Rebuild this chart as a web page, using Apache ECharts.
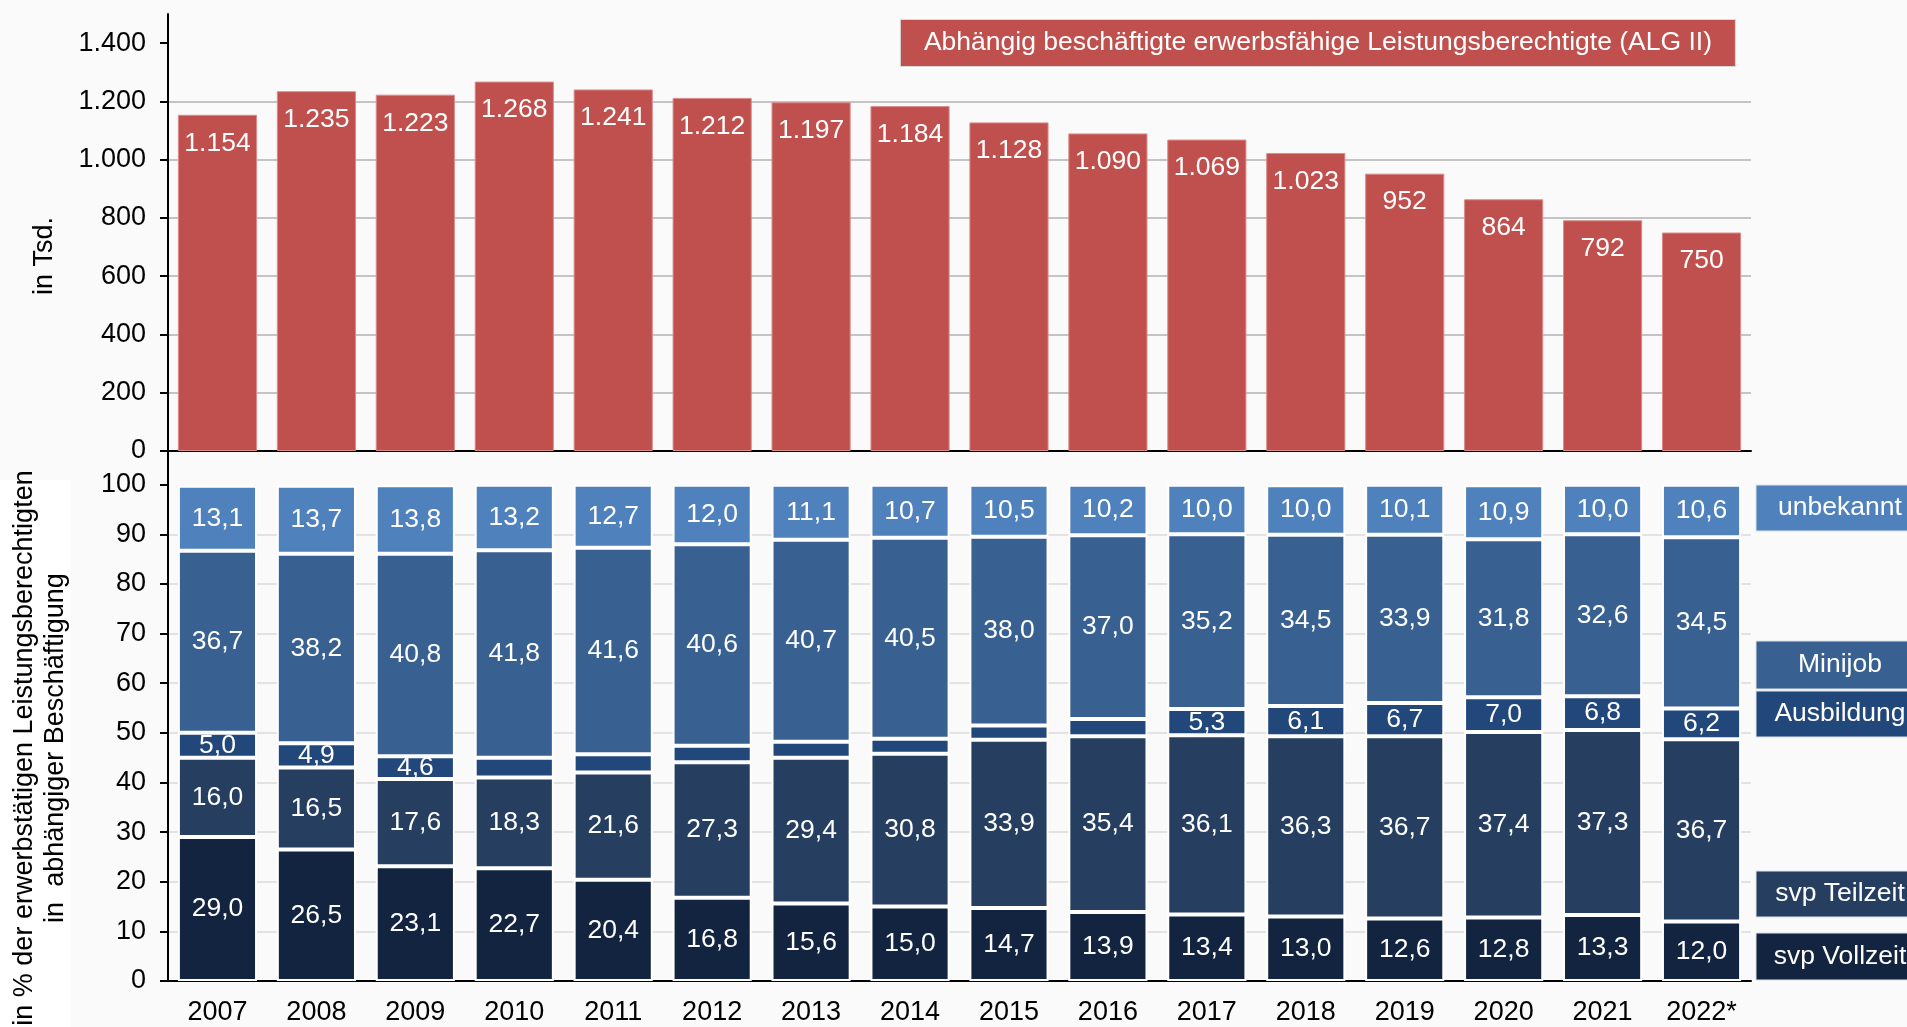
<!DOCTYPE html>
<html>
<head>
<meta charset="utf-8">
<script src="https://cdn.jsdelivr.net/npm/echarts@6/dist/echarts.min.js"></script>
<style>
html,body{margin:0;padding:0;background:#FAFAFA;}
#chart{width:1907px;height:1027px;}
</style>
</head>
<body>
<div id="chart"></div>
<script>
const years = ['2007','2008','2009','2010','2011','2012','2013','2014','2015','2016','2017','2018','2019','2020','2021','2022*'];
const totalTsd = [1154,1235,1223,1268,1241,1212,1197,1184,1128,1090,1069,1023,952,864,792,750];
const vollzeit = [29.0,26.5,23.1,22.7,20.4,16.8,15.6,15.0,14.7,13.9,13.4,13.0,12.6,12.8,13.3,12.0];
const teilzeit = [16.0,16.5,17.6,18.3,21.6,27.3,29.4,30.8,33.9,35.4,36.1,36.3,36.7,37.4,37.3,36.7];
const ausbildung = [5.0,4.9,4.6,4.0,3.7,3.3,3.2,3.0,2.9,3.5,5.3,6.1,6.7,7.0,6.8,6.2];
const minijob = [36.7,38.2,40.8,41.8,41.6,40.6,40.7,40.5,38.0,37.0,35.2,34.5,33.9,31.8,32.6,34.5];
const unbekannt = [13.1,13.7,13.8,13.2,12.7,12.0,11.1,10.7,10.5,10.2,10.0,10.0,10.1,10.9,10.0,10.6];
const topTicks = [0,200,400,600,800,1000,1200,1400];
const bottomTicks = [0,10,20,30,40,50,60,70,80,90,100];
const seriesNames = ['svp Vollzeit','svp Teilzeit','Ausbildung','Minijob','unbekannt'];
const seriesColors = ['#12243F','#263F61','#21477B','#386192','#4F81BD'];
const titleText = 'Abhängig beschäftigte erwerbsfähige Leistungsberechtigte (ALG II)';

const FONT = '"Liberation Sans", Arial, sans-serif';
const FS = 26.5;
const AFS = 27;
function deThousand(v){
  if (v >= 1000) { const r = v % 1000; return Math.floor(v/1000) + '.' + String(r).padStart(3,'0'); }
  return String(v);
}
function deDec(v){ return v.toFixed(1).replace('.', ','); }

const chart = echarts.init(document.getElementById('chart'), null, {renderer:'canvas'});

const stackData = [vollzeit, teilzeit, ausbildung, minijob, unbekannt];
const stackSeries = stackData.map((d,i)=>({
  name: seriesNames[i], type:'bar', stack:'share', xAxisIndex:1, yAxisIndex:1,
  data:d, barCategoryGap:'20%',
  itemStyle:{color:seriesColors[i], borderColor:'#FFFFFF', borderWidth:2},
  label:{show:true, position:'inside', color:'#FFFFFF', fontFamily:FONT, fontSize:FS,
    formatter:p=> p.value >= 4.5 ? deDec(p.value) : ''}
}));

const legendBoxes = [
  {name:'unbekannt', y:485, h:46, c:seriesColors[4]},
  {name:'Minijob', y:641, h:48, c:seriesColors[3]},
  {name:'Ausbildung', y:691, h:46, c:seriesColors[2]},
  {name:'svp Teilzeit', y:871, h:46, c:seriesColors[1]},
  {name:'svp Vollzeit', y:933, h:47, c:seriesColors[0]}
];
const graphics = [
  {type:'rect', left:0, top:480, shape:{width:71, height:547}, style:{fill:'#FFFFFF'}, z:-1},
  {type:'text', x:45, y:256, rotation:Math.PI/2,
    style:{text:'in Tsd.', font:AFS + 'px ' + FONT, fill:'#000', textAlign:'center', textVerticalAlign:'middle'}},
  {type:'text', x:40, y:748, rotation:Math.PI/2,
    style:{text:'in % der erwerbstätigen Leistungsberechtigten\nin  abhängiger Beschäftigung', font:AFS + 'px ' + FONT, fill:'#000', textAlign:'center', textVerticalAlign:'middle', lineHeight:31}}
];
legendBoxes.forEach(b=>{
  graphics.push({type:'rect', shape:{x:1756, y:b.y, width:200, height:b.h}, style:{fill:b.c, stroke:'#DDE3EA', lineWidth:1}});
  graphics.push({type:'text', x:1840, y:b.y + b.h/2, style:{text:b.name, font:FS + 'px ' + FONT, fill:'#FFFFFF', textAlign:'center', textVerticalAlign:'middle'}});
});

const option = {
  backgroundColor:'#FAFAFA',
  animation:false,
  title:{text:titleText, right:171, top:19, backgroundColor:'#C0504D', padding:[10,24,11,24],
    borderColor:'#D9D9D9', borderWidth:1,
    textStyle:{color:'#FFFFFF', fontSize:FS, fontWeight:'normal', fontFamily:FONT}},
  grid:[
    {left:168, right:156, top:14, bottom:576},
    {left:168, right:156, top:450, bottom:46}
  ],
  xAxis:[
    {type:'category', gridIndex:0, data:years,
      axisLine:{lineStyle:{color:'#000', width:2}}, axisTick:{length:10, lineStyle:{color:'#000', width:2}},
      axisLabel:{show:false}},
    {type:'category', gridIndex:1, data:years,
      axisLine:{lineStyle:{color:'#000', width:2}}, axisTick:{length:10, lineStyle:{color:'#000', width:2}},
      axisLabel:{color:'#000', fontSize:AFS, fontFamily:FONT, margin:18}}
  ],
  yAxis:[
    {type:'value', gridIndex:0, min:0, max:1500, interval:200,
      axisLine:{show:true, lineStyle:{color:'#000', width:2}},
      axisTick:{show:true, length:8, customValues:topTicks, lineStyle:{color:'#000', width:2}},
      axisLabel:{color:'#000', fontSize:AFS, fontFamily:FONT, margin:22, customValues:topTicks, formatter:v=>deThousand(v)},
      splitLine:{show:true, showMaxLine:false, lineStyle:{color:'#C4C4C4', width:2}}},
    {type:'value', gridIndex:1, min:0, max:107, interval:10,
      axisLine:{show:true, lineStyle:{color:'#000', width:2}},
      axisTick:{show:true, length:8, customValues:bottomTicks, lineStyle:{color:'#000', width:2}},
      axisLabel:{color:'#000', fontSize:AFS, fontFamily:FONT, margin:22, customValues:bottomTicks},
      splitLine:{show:true, showMaxLine:false, lineStyle:{color:'#E2E2E2', width:2}}}
  ],
  graphic:graphics,
  series:[
    {name:'Abhängig beschäftigte eLb', type:'bar', xAxisIndex:0, yAxisIndex:0, data:totalTsd,
      barCategoryGap:'20%',
      itemStyle:{color:'#C0504D', borderColor:'#D98C8A', borderWidth:1},
      label:{show:true, position:'insideTop', distance:15, color:'#FFFFFF', fontSize:FS, fontFamily:FONT,
        formatter:p=>deThousand(p.value)}}
  ].concat(stackSeries)
};
chart.setOption(option);
</script>
</body>
</html>
